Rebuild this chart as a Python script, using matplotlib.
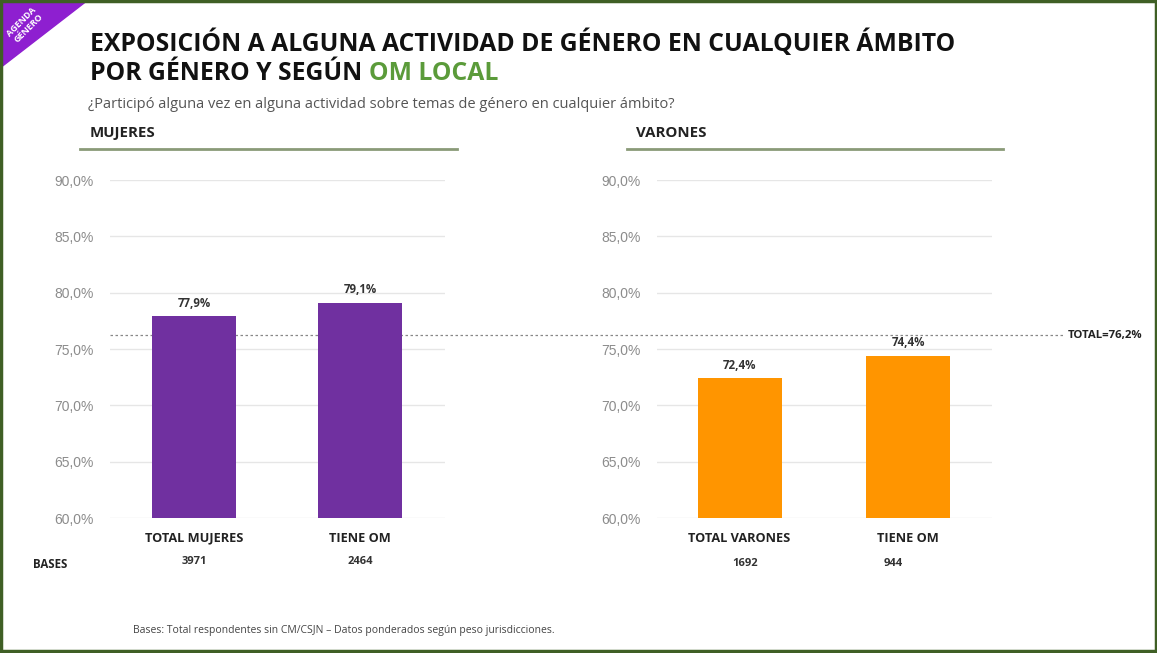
import matplotlib.pyplot as plt
from matplotlib.patches import Polygon, Rectangle
from matplotlib.lines import Line2D

categories_m = ['TOTAL MUJERES', 'TIENE OM']
values_m = [77.9, 79.1]
bases_m = ['3971', '2464']
categories_v = ['TOTAL VARONES', 'TIENE OM']
values_v = [72.4, 74.4]
bases_v = ['1692', '944']
total = 76.2
yticks = [60, 65, 70, 75, 80, 85, 90]

purple = '#7030a0'
orange = '#ff9500'
green_title = '#5b9b3a'
frame_green = '#3f5f25'

plt.rcParams['font.family'] = ['Open Sans', 'DejaVu Sans']

fig = plt.figure(figsize=(11.57, 6.53), dpi=100)
W, H = 1157, 653


def fx(px):
    return px / W


def fy(py):
    return 1 - py / H


def panel(x0, x1, centers, cats, vals, color):
    ax = fig.add_axes([fx(x0), fy(518), fx(x1 - x0), fy(180) - fy(518)])
    ax.patch.set_alpha(0)
    step = centers[1] - centers[0]
    ax.set_xlim(-(centers[0] - x0) / step, 1 + (x1 - centers[1]) / step)
    ax.set_ylim(60, 90)
    ax.bar(range(len(vals)), vals, width=84 / step, color=color, zorder=3)
    for i, v in enumerate(vals):
        ax.text(i, v + 0.6, f'{v:.1f}%'.replace('.', ','), ha='center', va='bottom',
                fontsize=8.3, fontweight='bold', color='#333333')
    ax.set_yticks(yticks)
    ax.set_yticklabels([f'{t:.1f}%'.replace('.', ',') for t in yticks],
                       fontsize=10, color='#8c8c8c', family='Liberation Sans')
    ax.grid(axis='y', color='#e6e6e6', linewidth=1, zorder=0)
    ax.set_xticks(range(len(cats)))
    ax.set_xticklabels(cats, fontsize=9.2, fontweight='bold', color='#222222')
    ax.tick_params(length=0, axis='y', pad=12)
    ax.tick_params(length=0, axis='x', pad=10)
    for s in ax.spines.values():
        s.set_visible(False)
    return ax


ax1 = panel(110, 445, [194, 360], categories_m, values_m, purple)
ax2 = panel(657, 992, [739.5, 908], categories_v, values_v, orange)

# total reference line across both panels (behind the bars)
ax1.axhline(total, xmin=0, xmax=(1065 - 110) / 335, color='#888888', linestyle=(0, (2, 2)),
            linewidth=0.9, clip_on=False, zorder=2)
ax1.text((1068 - 110) / 335, total, f'TOTAL={total:.1f}%'.replace('.', ','),
         transform=ax1.get_yaxis_transform(), fontsize=8.2, fontweight='bold',
         va='center', ha='left', color='#222222')

# bases row
fig.text(fx(33), fy(564), 'BASES', fontsize=8.3, fontweight='bold', va='center', color='#222222')
for cx, b in zip([194, 360], bases_m):
    fig.text(fx(cx), fy(562), b, fontsize=8, fontweight='bold', ha='center', va='center', color='#333333')
for cx, b in zip([745, 893], bases_v):
    fig.text(fx(cx), fy(564), b, fontsize=8, fontweight='bold', ha='center', va='center', color='#333333')

# titles
fig.text(fx(90), fy(43), 'EXPOSICIÓN A ALGUNA ACTIVIDAD DE GÉNERO EN CUALQUIER ÁMBITO',
         fontsize=17.8, fontweight='bold', va='center', color='#111111')
t2 = fig.text(fx(90), fy(74), 'POR GÉNERO Y SEGÚN ', fontsize=17.8, fontweight='bold',
              va='center', color='#111111')
fig.canvas.draw()
bb = t2.get_window_extent()
fig.text(bb.x1 / W, fy(74), 'OM LOCAL', fontsize=17.8, fontweight='bold', va='center', color=green_title)
fig.text(fx(88), fy(104), '¿Participó alguna vez en alguna actividad sobre temas de género en cualquier ámbito?',
         fontsize=10.5, va='center', color='#555555')

fig.text(fx(90), fy(133), 'MUJERES', fontsize=10.8, fontweight='bold', va='center', color='#222222')
fig.text(fx(636), fy(133), 'VARONES', fontsize=10.8, fontweight='bold', va='center', color='#222222')
fig.add_artist(Line2D([fx(80), fx(457)], [fy(149), fy(149)], color='#8a9a78', linewidth=2))
fig.add_artist(Line2D([fx(627), fx(1003)], [fy(149), fy(149)], color='#8a9a78', linewidth=2))

fig.text(fx(133), fy(630), 'Bases: Total respondentes sin CM/CSJN – Datos ponderados según peso jurisdicciones.',
         fontsize=7.5, va='center', color='#444444')

# corner badge
fig.add_artist(Polygon([[0, 1], [fx(88), 1], [0, fy(68)]], closed=True,
                       transform=fig.transFigure, color='#8e1fd0', zorder=5))
fig.text(fx(25), fy(25), 'AGENDA\nGÉNERO', rotation=45, fontsize=6.5, color='white',
         ha='center', va='center', fontweight='bold', linespacing=1.1, zorder=6)

# frame
fig.add_artist(Rectangle((0.001, 0.003), 0.998, 0.996, transform=fig.transFigure, fill=False,
                         edgecolor=frame_green, linewidth=2.5, zorder=7))

fig.savefig('out.png', dpi=100)
